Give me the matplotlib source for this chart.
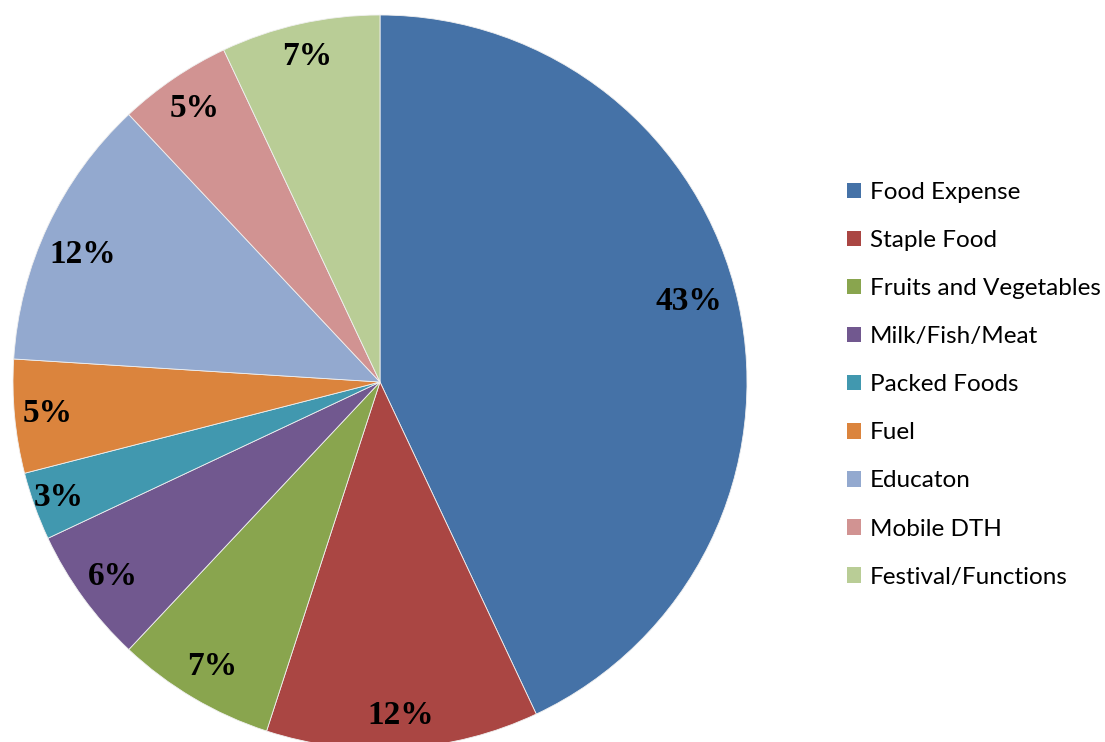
import numpy as np
import matplotlib.pyplot as plt
from matplotlib.patches import Patch

plt.rcParams['font.serif'] = ['Liberation Serif', 'DejaVu Serif']

categories = ['Food Expense', 'Staple Food', 'Fruits and Vegetables', 'Milk/Fish/Meat',
              'Packed Foods', 'Fuel', 'Educaton', 'Mobile DTH', 'Festival/Functions']
shares = [43, 12, 7, 6, 3, 5, 12, 5, 7]
colors = ['#4572A7', '#AA4643', '#89A54E', '#71588F', '#4198AF',
          '#DB843D', '#93A9CF', '#D19392', '#B9CD96']
# how far out each percentage label sits (fraction of radius)
label_dist = [0.87, 0.91, 0.90, 0.90, 0.93, 0.91, 0.88, 0.90, 0.91]
# small angular nudges for labels (degrees)
label_turn = [2, 0, 0, 0, 0, 0, 2, 0, 0]

fig = plt.figure(figsize=(11.05, 7.42), dpi=100)
W, H = 1105, 742
cx, cy, r = 380, 382, 367
ax = fig.add_axes([(cx - r) / W, (H - cy - r) / H, 2 * r / W, 2 * r / H])

wedges, texts, autotexts = ax.pie(
    shares, colors=colors, startangle=90, counterclock=False,
    autopct='%d%%', pctdistance=0.9,
    wedgeprops=dict(edgecolor='#f0f0f0', linewidth=0.6),
    textprops=dict(family='serif', fontweight='bold', fontsize=24, color='black'))
for w, t, d, a in zip(wedges, autotexts, label_dist, label_turn):
    ang = np.deg2rad((w.theta1 + w.theta2) / 2 + a)
    t.set_position((d * np.cos(ang), d * np.sin(ang)))
ax.set_xlim(-1, 1)
ax.set_ylim(-1, 1)
ax.set_aspect('equal')
ax.axis('off')

handles = [Patch(facecolor=c, edgecolor='none') for c in colors]
fig.legend(handles, categories, loc='upper left', bbox_to_anchor=(825 / W, 1 - 160 / H),
           frameon=False, prop=dict(family='Lato', size=17.5),
           handlelength=0.6, handleheight=0.6, handletextpad=0.35, labelspacing=1.115)

fig.savefig('out.png', dpi=100)
